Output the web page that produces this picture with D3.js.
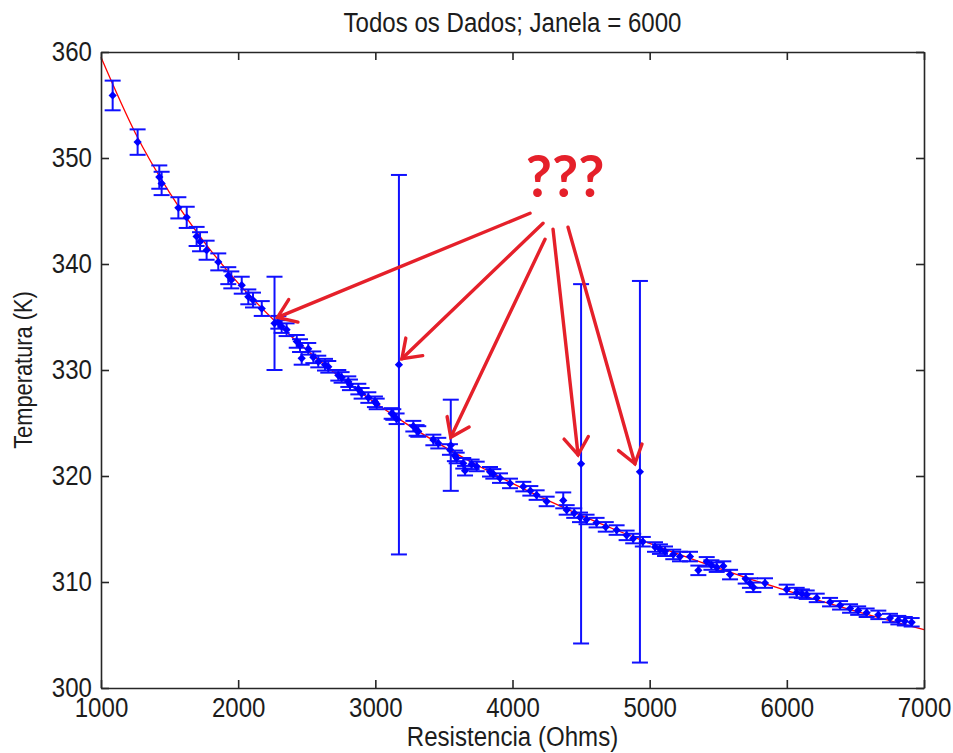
<!DOCTYPE html>
<html>
<head>
<meta charset="utf-8">
<script src="https://cdn.jsdelivr.net/npm/d3@7"></script>
<style>
  html, body { margin: 0; padding: 0; background: #fff; }
  svg { display: block; }
  .lbl { font-family: 'Liberation Sans', Arial, sans-serif; fill: #1c1c1c; }
</style>
</head>
<body>
<svg id="chart" width="953" height="753"></svg>
<script>
// Measured resistance (Ohms), temperature (K) and temperature uncertainty (K)
const resistance = [
  1085, 1267, 1425, 1442, 1564, 1625, 1697, 1722, 1770, 1855,
  1928, 1950, 2026, 2074, 2108, 2172, 2265, 2293, 2317, 2353,
  2427, 2451, 2463, 2511, 2548, 2584, 2633, 2657, 2730, 2754,
  2803, 2815, 2876, 2900, 2949, 2997, 3010, 3119, 3131, 3155,
  3172, 3277, 3301, 3313, 3423, 3459, 3544, 3550, 3580, 3593,
  3641, 3654, 3702, 3739, 3836, 3860, 3909, 3982, 4079, 4130,
  4176, 4249, 4370, 4395, 4450, 4492, 4500, 4540, 4613, 4680,
  4759, 4832, 4880, 4929, 4950, 5039, 5075, 5112, 5172, 5221,
  5294, 5355, 5416, 5450, 5489, 5537, 5586, 5700, 5731, 5756,
  5841, 5999, 6072, 6110, 6145, 6218, 6315, 6388, 6461, 6520,
  6582, 6667, 6752, 6813, 6860, 6910
];
const temperature = [
  355.9, 351.5, 348.2, 347.6, 345.3, 344.4, 342.6, 342.1, 341.3, 340.2,
  338.9, 338.5, 338.0, 336.9, 336.6, 335.8, 334.4, 334.5, 334.1, 333.8,
  332.7, 332.3, 331.1, 332.0, 331.2, 330.8, 330.5, 330.3, 329.5, 329.3,
  328.9, 328.6, 328.2, 327.8, 327.4, 327.0, 326.8, 325.9, 325.8, 325.4,
  330.5, 324.7, 324.3, 324.2, 323.4, 323.1, 322.5, 322.9, 321.9, 321.7,
  321.2, 320.5, 321.1, 320.9, 320.4, 320.2, 319.8, 319.3, 319.0, 318.6,
  318.2, 317.6, 317.7, 316.8, 316.5, 316.1, 321.15, 315.9, 315.6, 315.2,
  314.9, 314.4, 314.1, 320.4, 313.8, 313.3, 313.1, 312.9, 312.6, 312.4,
  312.4, 311.1, 311.9, 311.6, 311.4, 311.5, 310.7, 310.3, 309.9, 309.5,
  309.9, 309.3, 309.0, 308.9, 308.8, 308.5, 308.1, 307.8, 307.5, 307.3,
  307.1, 306.9, 306.6, 306.4, 306.3, 306.2
];
const uncertainty = [
  1.4, 1.2, 1.1, 1.1, 1.0, 1.0, 0.9, 0.9, 0.9, 0.8,
  0.8, 0.8, 0.8, 0.7, 0.7, 0.7, 4.4, 0.6, 0.6, 0.6,
  0.6, 0.6, 0.6, 0.55, 0.55, 0.55, 0.55, 0.55, 0.5, 0.5,
  0.5, 0.5, 0.5, 0.5, 0.5, 0.5, 0.5, 0.5, 0.5, 0.5,
  17.9, 0.5, 0.5, 0.5, 0.5, 0.5, 0.5, 4.3, 0.5, 0.5,
  0.5, 0.45, 0.45, 0.45, 0.45, 0.45, 0.45, 0.45, 0.45, 0.45,
  0.45, 0.45, 0.75, 0.45, 0.45, 0.45, 16.95, 0.45, 0.45, 0.45,
  0.45, 0.45, 0.45, 18.0, 0.45, 0.45, 0.45, 0.45, 0.45, 0.45,
  0.45, 0.45, 0.45, 0.45, 0.45, 0.45, 0.45, 0.45, 0.45, 0.45,
  0.45, 0.45, 0.45, 0.4, 0.4, 0.4, 0.4, 0.4, 0.4, 0.4,
  0.4, 0.4, 0.4, 0.4, 0.4, 0.4
];

// Calibration curve T(R)
const fitResistance = [1000, 1250, 1500, 1750, 2000, 2250, 2500, 2750, 3000, 3250,
  3500, 3750, 4000, 4250, 4500, 4750, 5000, 5250, 5500, 5750, 6000, 6250, 6500, 6750, 7000];
const fitTemperature = [359.5, 352.36, 346.73, 342.11, 338.2, 334.84, 331.88, 329.25, 326.88, 324.73,
  322.77, 320.97, 319.3, 317.74, 316.29, 314.93, 313.65, 312.44, 311.3, 310.21, 309.18, 308.19, 307.26, 306.36, 305.5];

// Suspicious readings flagged by the "???" note (indices into the arrays above)
const flagged = [16, 40, 47, 66, 73];

const xTicks = [1000, 2000, 3000, 4000, 5000, 6000, 7000];
const yTicks = [300, 310, 320, 330, 340, 350, 360];

const titleText = "Todos os Dados; Janela = 6000";
const xLabel = "Resistencia (Ohms)";
const yLabel = "Temperatura (K)";

(function draw() {
  const svg = d3.select("#chart");
  const mLeft = 101, mRight = 924, mTop = 52, mBottom = 688;
  const squeeze = 0.86; // condensed look of the labels

  const x = d3.scaleLinear().domain([1000, 7000]).range([mLeft, mRight]);
  const y = d3.scaleLinear().domain([300, 360]).range([mBottom, mTop]);

  const points = resistance.map((r, i) => ({ r, t: temperature[i], e: uncertainty[i] }));

  // fitted curve
  const fit = fitResistance.map((r, i) => [r, fitTemperature[i]]);
  svg.append("path")
    .datum(fit)
    .attr("fill", "none")
    .attr("stroke", "#ff0000")
    .attr("stroke-width", 1.3)
    .attr("d", d3.line().x(d => x(d[0])).y(d => y(d[1])).curve(d3.curveMonotoneX));

  // error bars
  const capHalf = 8;
  const eb = svg.append("g")
    .attr("stroke", "#1010ff")
    .attr("stroke-width", 2)
    .attr("fill", "none");
  const bars = eb.selectAll("g").data(points).join("g");
  bars.append("line")
    .attr("x1", d => x(d.r)).attr("x2", d => x(d.r))
    .attr("y1", d => y(d.t + d.e)).attr("y2", d => y(d.t - d.e));
  bars.append("line")
    .attr("x1", d => x(d.r) - capHalf).attr("x2", d => x(d.r) + capHalf)
    .attr("y1", d => y(d.t + d.e)).attr("y2", d => y(d.t + d.e));
  bars.append("line")
    .attr("x1", d => x(d.r) - capHalf).attr("x2", d => x(d.r) + capHalf)
    .attr("y1", d => y(d.t - d.e)).attr("y2", d => y(d.t - d.e));

  // diamond markers
  svg.append("g").selectAll("path").data(points).join("path")
    .attr("d", d3.symbol(d3.symbolSquare, 34))
    .attr("transform", d => `translate(${x(d.r)},${y(d.t)}) rotate(45)`)
    .attr("fill", "#0000ff");

  // axes box with inward ticks
  const axisStyle = g => {
    g.attr("font-family", null).attr("font-size", null);
    g.selectAll(".domain").attr("stroke", "#262626").attr("stroke-width", 1.6);
    g.selectAll(".tick line").attr("stroke", "#262626").attr("stroke-width", 1.6);
    g.selectAll("text").attr("class", "lbl").attr("font-size", 28).attr("fill", "#1c1c1c")
      .attr("transform", `scale(${squeeze},1)`);
  };
  svg.append("g").attr("transform", `translate(0,${mBottom})`)
    .call(d3.axisBottom(x).tickValues(xTicks).tickFormat(d3.format("d")).tickSize(-8).tickSizeOuter(0).tickPadding(9))
    .call(axisStyle);
  svg.append("g").attr("transform", `translate(0,${mTop})`)
    .call(d3.axisTop(x).tickValues(xTicks).tickFormat("").tickSize(-8).tickSizeOuter(0))
    .call(axisStyle);
  svg.append("g").attr("transform", `translate(${mLeft},0)`)
    .call(d3.axisLeft(y).tickValues(yTicks).tickFormat(d3.format("d")).tickSize(-8).tickSizeOuter(0).tickPadding(10.5))
    .call(axisStyle);
  svg.append("g").attr("transform", `translate(${mRight},0)`)
    .call(d3.axisRight(y).tickValues(yTicks).tickFormat("").tickSize(-8).tickSizeOuter(0))
    .call(axisStyle);

  // title and axis labels
  svg.append("text").attr("class", "lbl")
    .attr("transform", `translate(${(mLeft + mRight) / 2},32) scale(${squeeze},1)`)
    .attr("text-anchor", "middle").attr("font-size", 28)
    .text(titleText);
  svg.append("text").attr("class", "lbl")
    .attr("transform", `translate(${(mLeft + mRight) / 2},746) scale(${squeeze},1)`)
    .attr("text-anchor", "middle").attr("font-size", 28)
    .text(xLabel);
  svg.append("text").attr("class", "lbl")
    .attr("transform", `translate(32,${(mTop + mBottom) / 2}) rotate(-90) scale(0.84,1)`)
    .attr("text-anchor", "middle").attr("font-size", 26)
    .text(yLabel);

  // "???" note with arrows pointing at the flagged readings
  const noteR = 4383, noteT = 346.3;
  const nx = x(noteR), ny = y(noteT);
  const red = "#e5202a";
  svg.append("text")
    .attr("x", nx).attr("y", ny)
    .attr("text-anchor", "middle")
    .attr("font-family", "Lato, 'Open Sans', sans-serif")
    .attr("font-weight", 700)
    .attr("font-size", 57)
    .attr("fill", red)
    .text("???");

  // shaft start offsets from the note, tip offsets from each flagged marker
  const startOffsets = [[-35, 16], [-22, 26], [-20, 42], [-12, 32], [3, 30]];
  const tipOffsets = [[3, -6], [3, -6], [0, -8], [-3, -9], [-5, -8]];
  const arrows = svg.append("g")
    .attr("stroke", red).attr("stroke-width", 3.4)
    .attr("stroke-linecap", "round").attr("fill", "none");
  flagged.forEach((idx, k) => {
    const p = points[idx];
    const sx = nx + startOffsets[k][0], sy = ny + startOffsets[k][1];
    const tx = x(p.r) + tipOffsets[k][0], ty = y(p.t) + tipOffsets[k][1];
    arrows.append("line").attr("x1", sx).attr("y1", sy).attr("x2", tx).attr("y2", ty);
    const ang = Math.atan2(sy - ty, sx - tx);
    const len = 21, spread = 0.62;
    const p1 = [tx + len * Math.cos(ang + spread), ty + len * Math.sin(ang + spread)];
    const p2 = [tx + len * Math.cos(ang - spread), ty + len * Math.sin(ang - spread)];
    arrows.append("path").attr("d", `M${p1[0]},${p1[1]}L${tx},${ty}L${p2[0]},${p2[1]}`)
      .attr("stroke-linejoin", "miter");
  });
})();
</script>
</body>
</html>
